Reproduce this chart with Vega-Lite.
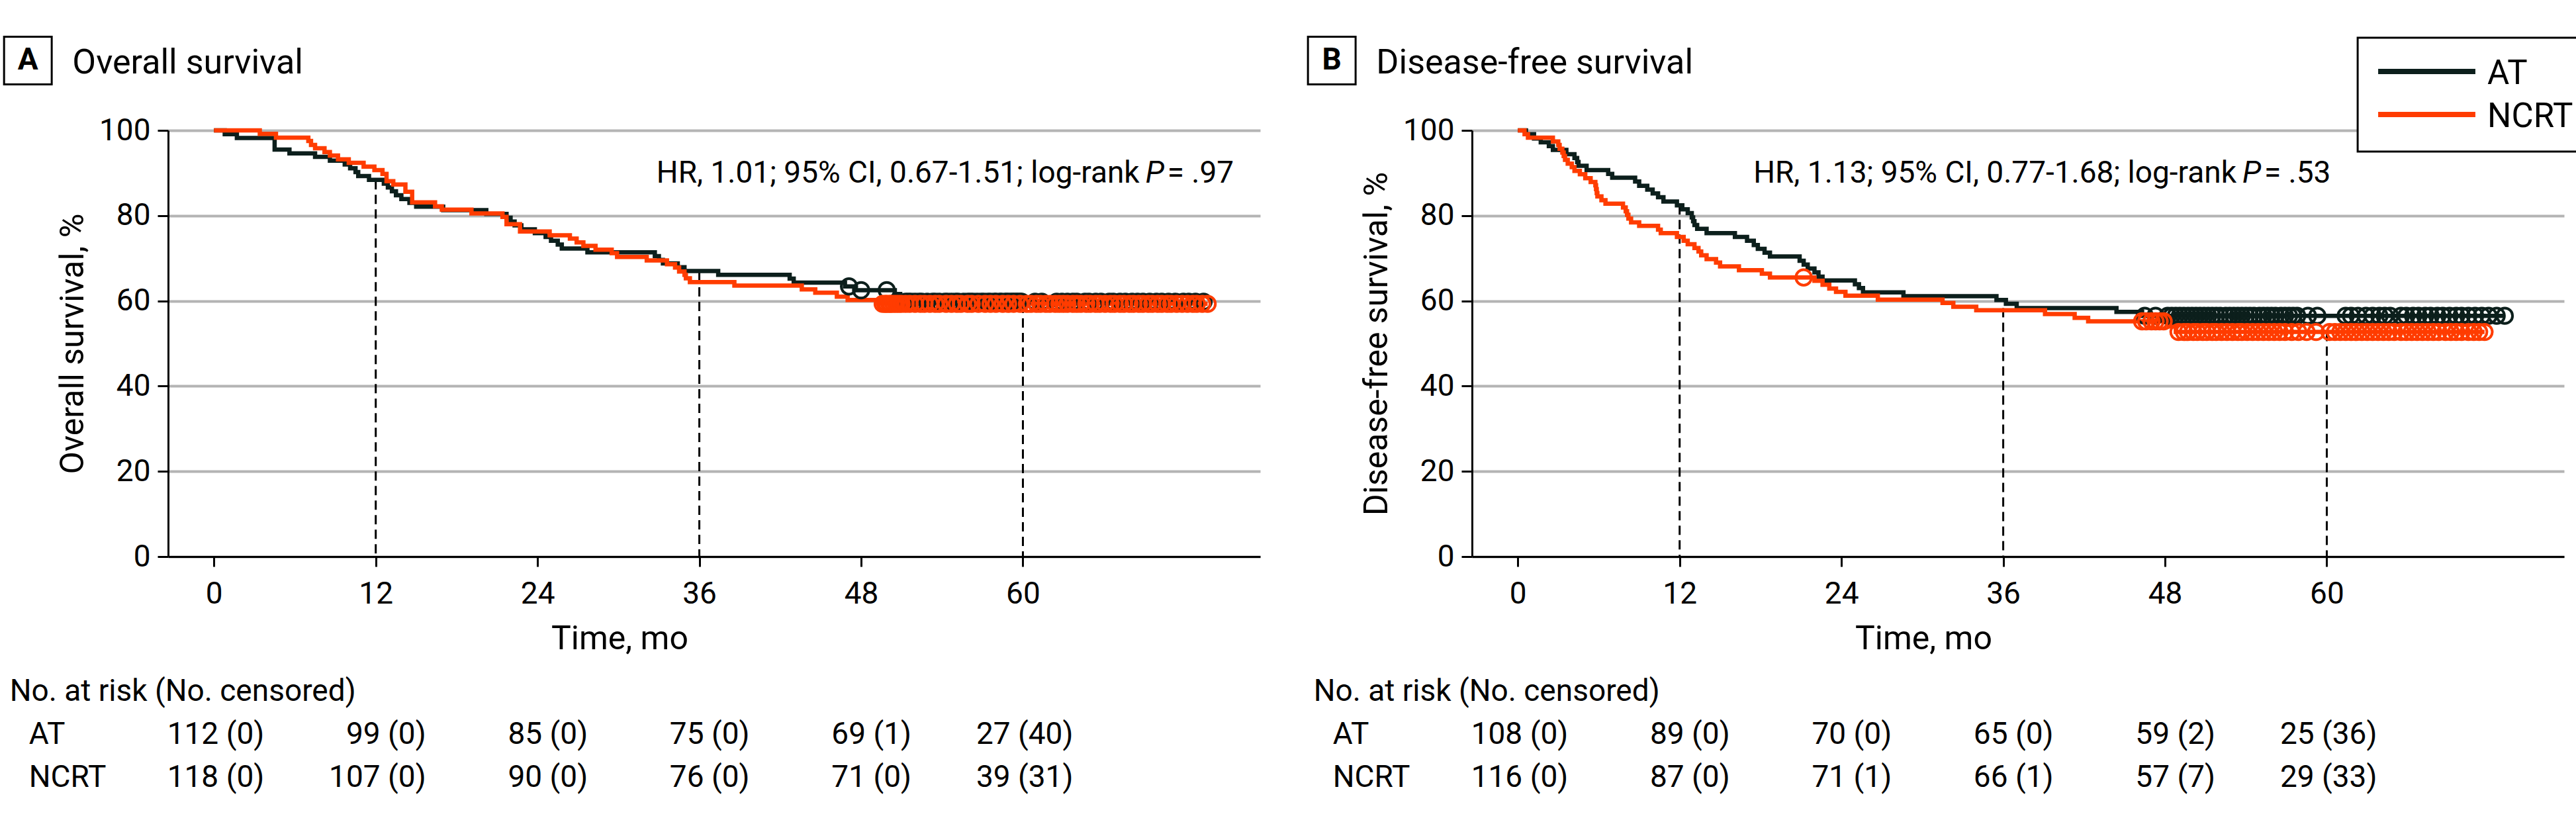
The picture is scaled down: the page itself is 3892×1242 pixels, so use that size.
{
"$schema": "https://vega.github.io/schema/vega-lite/v6.json",
"background": "white",
"autosize": {"type": "pad"},
"padding": {"left": 0, "top": 49, "right": 0, "bottom": 10},
"config": {
  "font": "Roboto",
  "view": {"stroke": null},
  "axis": {"labelFont": "Roboto", "titleFont": "Roboto", "labelFontSize": 46, "titleFontSize": 50, "titleFontWeight": "normal", "labelColor": "black", "titleColor": "black", "domainColor": "black", "tickColor": "black", "domainWidth": 3, "tickWidth": 3, "gridColor": "#b4b4b4", "gridWidth": 4, "labelFlush": false},
  "text": {"font": "Roboto", "color": "black"}
},
"datasets": {
  "km": [
    {"p":"A","g":"AT","t":0,"s":100},{"p":"A","g":"AT","t":0.8,"s":99.1},{"p":"A","g":"AT","t":1.7,"s":98.2},{"p":"A","g":"AT","t":4.5,"s":95.5},{"p":"A","g":"AT","t":5.6,"s":94.6},{"p":"A","g":"AT","t":7.5,"s":93.8},{"p":"A","g":"AT","t":8.6,"s":92.9},{"p":"A","g":"AT","t":9.7,"s":92.0},{"p":"A","g":"AT","t":10.1,"s":91.1},{"p":"A","g":"AT","t":10.5,"s":90.2},{"p":"A","g":"AT","t":10.7,"s":89.3},{"p":"A","g":"AT","t":11.5,"s":88.4},{"p":"A","g":"AT","t":12.6,"s":87.5},{"p":"A","g":"AT","t":12.9,"s":86.6},{"p":"A","g":"AT","t":13.2,"s":85.7},{"p":"A","g":"AT","t":13.5,"s":84.8},{"p":"A","g":"AT","t":13.9,"s":83.9},{"p":"A","g":"AT","t":14.5,"s":83.0},{"p":"A","g":"AT","t":15.0,"s":82.1},{"p":"A","g":"AT","t":17.0,"s":81.3},{"p":"A","g":"AT","t":20.2,"s":80.4},{"p":"A","g":"AT","t":21.7,"s":79.5},{"p":"A","g":"AT","t":22.0,"s":78.6},{"p":"A","g":"AT","t":22.3,"s":77.7},{"p":"A","g":"AT","t":22.8,"s":76.8},{"p":"A","g":"AT","t":23.8,"s":75.9},{"p":"A","g":"AT","t":24.6,"s":75.0},{"p":"A","g":"AT","t":25.0,"s":74.1},{"p":"A","g":"AT","t":25.5,"s":73.2},{"p":"A","g":"AT","t":25.8,"s":72.3},{"p":"A","g":"AT","t":27.7,"s":71.4},{"p":"A","g":"AT","t":32.7,"s":70.5},{"p":"A","g":"AT","t":33.0,"s":69.6},{"p":"A","g":"AT","t":33.3,"s":68.8},{"p":"A","g":"AT","t":34.4,"s":67.9},{"p":"A","g":"AT","t":34.9,"s":67.0},{"p":"A","g":"AT","t":37.4,"s":66.1},{"p":"A","g":"AT","t":42.7,"s":65.2},{"p":"A","g":"AT","t":43.0,"s":64.3},{"p":"A","g":"AT","t":46.8,"s":63.4},{"p":"A","g":"AT","t":47.6,"s":62.5},{"p":"A","g":"AT","t":50.5,"s":61.6},{"p":"A","g":"AT","t":50.9,"s":60.7},{"p":"A","g":"AT","t":51.2,"s":59.8},{"p":"A","g":"AT","t":73.4,"s":59.8},
    {"p":"A","g":"NCRT","t":0,"s":100},{"p":"A","g":"NCRT","t":3.4,"s":99.2},{"p":"A","g":"NCRT","t":4.6,"s":98.3},{"p":"A","g":"NCRT","t":7.0,"s":97.5},{"p":"A","g":"NCRT","t":7.2,"s":96.6},{"p":"A","g":"NCRT","t":7.5,"s":95.8},{"p":"A","g":"NCRT","t":8.2,"s":94.9},{"p":"A","g":"NCRT","t":8.6,"s":94.1},{"p":"A","g":"NCRT","t":9.2,"s":93.2},{"p":"A","g":"NCRT","t":10.0,"s":92.4},{"p":"A","g":"NCRT","t":11.1,"s":91.5},{"p":"A","g":"NCRT","t":11.9,"s":90.7},{"p":"A","g":"NCRT","t":12.5,"s":89.8},{"p":"A","g":"NCRT","t":12.8,"s":88.1},{"p":"A","g":"NCRT","t":13.3,"s":87.3},{"p":"A","g":"NCRT","t":14.2,"s":85.6},{"p":"A","g":"NCRT","t":14.7,"s":83.1},{"p":"A","g":"NCRT","t":16.4,"s":82.2},{"p":"A","g":"NCRT","t":16.9,"s":81.4},{"p":"A","g":"NCRT","t":19.1,"s":80.5},{"p":"A","g":"NCRT","t":21.4,"s":79.7},{"p":"A","g":"NCRT","t":21.7,"s":78.0},{"p":"A","g":"NCRT","t":22.7,"s":76.3},{"p":"A","g":"NCRT","t":24.9,"s":75.4},{"p":"A","g":"NCRT","t":26.4,"s":74.6},{"p":"A","g":"NCRT","t":26.9,"s":73.7},{"p":"A","g":"NCRT","t":27.4,"s":72.9},{"p":"A","g":"NCRT","t":28.3,"s":72.0},{"p":"A","g":"NCRT","t":29.5,"s":71.2},{"p":"A","g":"NCRT","t":29.9,"s":70.3},{"p":"A","g":"NCRT","t":32.1,"s":69.5},{"p":"A","g":"NCRT","t":33.6,"s":68.6},{"p":"A","g":"NCRT","t":34.2,"s":67.8},{"p":"A","g":"NCRT","t":34.5,"s":66.9},{"p":"A","g":"NCRT","t":34.9,"s":66.1},{"p":"A","g":"NCRT","t":35.0,"s":65.3},{"p":"A","g":"NCRT","t":35.3,"s":64.4},{"p":"A","g":"NCRT","t":38.6,"s":63.6},{"p":"A","g":"NCRT","t":43.6,"s":62.7},{"p":"A","g":"NCRT","t":44.6,"s":61.9},{"p":"A","g":"NCRT","t":46.2,"s":61.0},{"p":"A","g":"NCRT","t":47.0,"s":60.2},{"p":"A","g":"NCRT","t":49.3,"s":59.3},{"p":"A","g":"NCRT","t":73.7,"s":59.3},
    {"p":"B","g":"AT","t":0,"s":100},{"p":"B","g":"AT","t":0.6,"s":99.1},{"p":"B","g":"AT","t":1.2,"s":98.1},{"p":"B","g":"AT","t":1.7,"s":97.2},{"p":"B","g":"AT","t":2.3,"s":96.3},{"p":"B","g":"AT","t":2.6,"s":95.4},{"p":"B","g":"AT","t":3.6,"s":94.4},{"p":"B","g":"AT","t":4.2,"s":93.5},{"p":"B","g":"AT","t":4.4,"s":92.6},{"p":"B","g":"AT","t":4.5,"s":91.7},{"p":"B","g":"AT","t":5.1,"s":90.7},{"p":"B","g":"AT","t":6.7,"s":89.8},{"p":"B","g":"AT","t":7.0,"s":88.9},{"p":"B","g":"AT","t":8.7,"s":88.0},{"p":"B","g":"AT","t":9.0,"s":87.0},{"p":"B","g":"AT","t":9.6,"s":86.1},{"p":"B","g":"AT","t":10.0,"s":85.2},{"p":"B","g":"AT","t":10.4,"s":84.3},{"p":"B","g":"AT","t":10.8,"s":83.3},{"p":"B","g":"AT","t":11.8,"s":82.4},{"p":"B","g":"AT","t":12.2,"s":81.5},{"p":"B","g":"AT","t":12.6,"s":80.6},{"p":"B","g":"AT","t":12.9,"s":79.6},{"p":"B","g":"AT","t":13.0,"s":78.7},{"p":"B","g":"AT","t":13.1,"s":77.8},{"p":"B","g":"AT","t":13.3,"s":76.9},{"p":"B","g":"AT","t":14.0,"s":75.9},{"p":"B","g":"AT","t":16.1,"s":75.0},{"p":"B","g":"AT","t":17.0,"s":74.1},{"p":"B","g":"AT","t":17.5,"s":73.1},{"p":"B","g":"AT","t":17.8,"s":72.2},{"p":"B","g":"AT","t":18.3,"s":71.3},{"p":"B","g":"AT","t":18.7,"s":70.4},{"p":"B","g":"AT","t":20.9,"s":69.4},{"p":"B","g":"AT","t":21.2,"s":68.5},{"p":"B","g":"AT","t":21.5,"s":67.6},{"p":"B","g":"AT","t":22.0,"s":66.7},{"p":"B","g":"AT","t":22.3,"s":65.7},{"p":"B","g":"AT","t":22.6,"s":64.8},{"p":"B","g":"AT","t":25.0,"s":63.9},{"p":"B","g":"AT","t":25.3,"s":63.0},{"p":"B","g":"AT","t":25.6,"s":62.0},{"p":"B","g":"AT","t":28.6,"s":61.1},{"p":"B","g":"AT","t":35.5,"s":60.2},{"p":"B","g":"AT","t":36.2,"s":59.3},{"p":"B","g":"AT","t":37.0,"s":58.3},{"p":"B","g":"AT","t":44.4,"s":57.4},{"p":"B","g":"AT","t":46.3,"s":56.5},{"p":"B","g":"AT","t":73.2,"s":56.5},
    {"p":"B","g":"NCRT","t":0,"s":100},{"p":"B","g":"NCRT","t":0.5,"s":99.1},{"p":"B","g":"NCRT","t":0.75,"s":98.3},{"p":"B","g":"NCRT","t":2.6,"s":97.4},{"p":"B","g":"NCRT","t":3.0,"s":96.6},{"p":"B","g":"NCRT","t":3.1,"s":95.7},{"p":"B","g":"NCRT","t":3.3,"s":94.8},{"p":"B","g":"NCRT","t":3.4,"s":94.0},{"p":"B","g":"NCRT","t":3.5,"s":93.1},{"p":"B","g":"NCRT","t":3.7,"s":92.2},{"p":"B","g":"NCRT","t":4.0,"s":91.4},{"p":"B","g":"NCRT","t":4.2,"s":90.5},{"p":"B","g":"NCRT","t":4.6,"s":89.7},{"p":"B","g":"NCRT","t":5.0,"s":88.8},{"p":"B","g":"NCRT","t":5.4,"s":87.9},{"p":"B","g":"NCRT","t":5.75,"s":87.1},{"p":"B","g":"NCRT","t":5.8,"s":86.2},{"p":"B","g":"NCRT","t":5.85,"s":85.3},{"p":"B","g":"NCRT","t":5.9,"s":84.5},{"p":"B","g":"NCRT","t":6.2,"s":83.6},{"p":"B","g":"NCRT","t":6.5,"s":82.8},{"p":"B","g":"NCRT","t":7.8,"s":81.9},{"p":"B","g":"NCRT","t":8.0,"s":81.0},{"p":"B","g":"NCRT","t":8.1,"s":80.2},{"p":"B","g":"NCRT","t":8.2,"s":79.3},{"p":"B","g":"NCRT","t":8.4,"s":78.4},{"p":"B","g":"NCRT","t":9.0,"s":77.6},{"p":"B","g":"NCRT","t":10.4,"s":76.7},{"p":"B","g":"NCRT","t":10.6,"s":75.9},{"p":"B","g":"NCRT","t":11.8,"s":75.0},{"p":"B","g":"NCRT","t":12.3,"s":74.1},{"p":"B","g":"NCRT","t":12.6,"s":73.3},{"p":"B","g":"NCRT","t":13.1,"s":72.4},{"p":"B","g":"NCRT","t":13.4,"s":71.6},{"p":"B","g":"NCRT","t":13.6,"s":70.7},{"p":"B","g":"NCRT","t":14.0,"s":69.8},{"p":"B","g":"NCRT","t":14.7,"s":69.0},{"p":"B","g":"NCRT","t":15.0,"s":68.1},{"p":"B","g":"NCRT","t":16.4,"s":67.2},{"p":"B","g":"NCRT","t":18.1,"s":66.4},{"p":"B","g":"NCRT","t":18.7,"s":65.5},{"p":"B","g":"NCRT","t":22.0,"s":64.7},{"p":"B","g":"NCRT","t":22.6,"s":63.8},{"p":"B","g":"NCRT","t":23.1,"s":62.9},{"p":"B","g":"NCRT","t":23.6,"s":62.1},{"p":"B","g":"NCRT","t":24.3,"s":61.2},{"p":"B","g":"NCRT","t":26.7,"s":60.3},{"p":"B","g":"NCRT","t":31.5,"s":59.5},{"p":"B","g":"NCRT","t":32.3,"s":58.6},{"p":"B","g":"NCRT","t":34.0,"s":57.8},{"p":"B","g":"NCRT","t":39.1,"s":56.9},{"p":"B","g":"NCRT","t":41.3,"s":56.0},{"p":"B","g":"NCRT","t":42.3,"s":55.2},{"p":"B","g":"NCRT","t":48.3,"s":54.0},{"p":"B","g":"NCRT","t":48.8,"s":52.7},{"p":"B","g":"NCRT","t":71.7,"s":52.7}
  ],
  "cens": [
    {"p":"A","g":"AT","t":47.1,"s":63.4},{"p":"A","g":"AT","t":48.0,"s":62.5},{"p":"A","g":"AT","t":49.9,"s":62.5},
    {"p":"A","g":"AT","t":51.3,"s":59.8},{"p":"A","g":"AT","t":51.5,"s":59.8},{"p":"A","g":"AT","t":51.7,"s":59.8},{"p":"A","g":"AT","t":52.0,"s":59.8},{"p":"A","g":"AT","t":52.3,"s":59.8},{"p":"A","g":"AT","t":52.5,"s":59.8},{"p":"A","g":"AT","t":52.9,"s":59.8},{"p":"A","g":"AT","t":53.3,"s":59.8},{"p":"A","g":"AT","t":53.5,"s":59.8},{"p":"A","g":"AT","t":53.8,"s":59.8},{"p":"A","g":"AT","t":54.2,"s":59.8},{"p":"A","g":"AT","t":54.4,"s":59.8},{"p":"A","g":"AT","t":54.7,"s":59.8},{"p":"A","g":"AT","t":55.0,"s":59.8},{"p":"A","g":"AT","t":55.2,"s":59.8},{"p":"A","g":"AT","t":55.6,"s":59.8},{"p":"A","g":"AT","t":55.9,"s":59.8},{"p":"A","g":"AT","t":56.1,"s":59.8},{"p":"A","g":"AT","t":56.3,"s":59.8},{"p":"A","g":"AT","t":56.6,"s":59.8},{"p":"A","g":"AT","t":56.9,"s":59.8},{"p":"A","g":"AT","t":57.1,"s":59.8},{"p":"A","g":"AT","t":57.4,"s":59.8},{"p":"A","g":"AT","t":57.6,"s":59.8},{"p":"A","g":"AT","t":57.9,"s":59.8},{"p":"A","g":"AT","t":58.0,"s":59.8},{"p":"A","g":"AT","t":58.3,"s":59.8},{"p":"A","g":"AT","t":58.4,"s":59.8},{"p":"A","g":"AT","t":58.7,"s":59.8},{"p":"A","g":"AT","t":58.8,"s":59.8},{"p":"A","g":"AT","t":59.0,"s":59.8},{"p":"A","g":"AT","t":59.2,"s":59.8},{"p":"A","g":"AT","t":59.3,"s":59.8},{"p":"A","g":"AT","t":59.5,"s":59.8},{"p":"A","g":"AT","t":59.6,"s":59.8},{"p":"A","g":"AT","t":59.8,"s":59.8},{"p":"A","g":"AT","t":59.9,"s":59.8},{"p":"A","g":"AT","t":60.9,"s":59.8},{"p":"A","g":"AT","t":61.4,"s":59.8},{"p":"A","g":"AT","t":62.5,"s":59.8},{"p":"A","g":"AT","t":62.9,"s":59.8},{"p":"A","g":"AT","t":63.3,"s":59.8},{"p":"A","g":"AT","t":63.7,"s":59.8},{"p":"A","g":"AT","t":64.0,"s":59.8},{"p":"A","g":"AT","t":64.6,"s":59.8},{"p":"A","g":"AT","t":64.9,"s":59.8},{"p":"A","g":"AT","t":65.4,"s":59.8},{"p":"A","g":"AT","t":65.8,"s":59.8},{"p":"A","g":"AT","t":66.4,"s":59.8},{"p":"A","g":"AT","t":66.7,"s":59.8},{"p":"A","g":"AT","t":67.2,"s":59.8},{"p":"A","g":"AT","t":67.6,"s":59.8},{"p":"A","g":"AT","t":68.1,"s":59.8},{"p":"A","g":"AT","t":68.5,"s":59.8},{"p":"A","g":"AT","t":68.9,"s":59.8},{"p":"A","g":"AT","t":69.4,"s":59.8},{"p":"A","g":"AT","t":69.9,"s":59.8},{"p":"A","g":"AT","t":70.3,"s":59.8},{"p":"A","g":"AT","t":70.8,"s":59.8},{"p":"A","g":"AT","t":71.3,"s":59.8},{"p":"A","g":"AT","t":71.9,"s":59.8},{"p":"A","g":"AT","t":72.3,"s":59.8},{"p":"A","g":"AT","t":72.8,"s":59.8},{"p":"A","g":"AT","t":73.4,"s":59.8},
    {"p":"A","g":"NCRT","t":49.6,"s":59.3},{"p":"A","g":"NCRT","t":49.8,"s":59.3},{"p":"A","g":"NCRT","t":49.9,"s":59.3},{"p":"A","g":"NCRT","t":50.1,"s":59.3},{"p":"A","g":"NCRT","t":50.2,"s":59.3},{"p":"A","g":"NCRT","t":50.4,"s":59.3},{"p":"A","g":"NCRT","t":50.6,"s":59.3},{"p":"A","g":"NCRT","t":50.8,"s":59.3},{"p":"A","g":"NCRT","t":51.0,"s":59.3},{"p":"A","g":"NCRT","t":51.3,"s":59.3},{"p":"A","g":"NCRT","t":51.6,"s":59.3},{"p":"A","g":"NCRT","t":52.0,"s":59.3},{"p":"A","g":"NCRT","t":52.4,"s":59.3},{"p":"A","g":"NCRT","t":52.7,"s":59.3},{"p":"A","g":"NCRT","t":53.1,"s":59.3},{"p":"A","g":"NCRT","t":53.5,"s":59.3},{"p":"A","g":"NCRT","t":53.8,"s":59.3},{"p":"A","g":"NCRT","t":54.3,"s":59.3},{"p":"A","g":"NCRT","t":54.7,"s":59.3},{"p":"A","g":"NCRT","t":55.1,"s":59.3},{"p":"A","g":"NCRT","t":55.4,"s":59.3},{"p":"A","g":"NCRT","t":55.9,"s":59.3},{"p":"A","g":"NCRT","t":56.2,"s":59.3},{"p":"A","g":"NCRT","t":56.7,"s":59.3},{"p":"A","g":"NCRT","t":57.2,"s":59.3},{"p":"A","g":"NCRT","t":57.6,"s":59.3},{"p":"A","g":"NCRT","t":58.0,"s":59.3},{"p":"A","g":"NCRT","t":58.5,"s":59.3},{"p":"A","g":"NCRT","t":58.9,"s":59.3},{"p":"A","g":"NCRT","t":59.3,"s":59.3},{"p":"A","g":"NCRT","t":59.8,"s":59.3},{"p":"A","g":"NCRT","t":60.3,"s":59.3},{"p":"A","g":"NCRT","t":60.6,"s":59.3},{"p":"A","g":"NCRT","t":61.0,"s":59.3},{"p":"A","g":"NCRT","t":61.3,"s":59.3},{"p":"A","g":"NCRT","t":61.7,"s":59.3},{"p":"A","g":"NCRT","t":62.0,"s":59.3},{"p":"A","g":"NCRT","t":62.4,"s":59.3},{"p":"A","g":"NCRT","t":62.7,"s":59.3},{"p":"A","g":"NCRT","t":63.0,"s":59.3},{"p":"A","g":"NCRT","t":63.3,"s":59.3},{"p":"A","g":"NCRT","t":63.7,"s":59.3},{"p":"A","g":"NCRT","t":64.0,"s":59.3},{"p":"A","g":"NCRT","t":64.3,"s":59.3},{"p":"A","g":"NCRT","t":64.7,"s":59.3},{"p":"A","g":"NCRT","t":65.0,"s":59.3},{"p":"A","g":"NCRT","t":65.4,"s":59.3},{"p":"A","g":"NCRT","t":65.7,"s":59.3},{"p":"A","g":"NCRT","t":66.1,"s":59.3},{"p":"A","g":"NCRT","t":66.5,"s":59.3},{"p":"A","g":"NCRT","t":66.8,"s":59.3},{"p":"A","g":"NCRT","t":67.2,"s":59.3},{"p":"A","g":"NCRT","t":67.5,"s":59.3},{"p":"A","g":"NCRT","t":67.9,"s":59.3},{"p":"A","g":"NCRT","t":68.2,"s":59.3},{"p":"A","g":"NCRT","t":68.6,"s":59.3},{"p":"A","g":"NCRT","t":68.9,"s":59.3},{"p":"A","g":"NCRT","t":69.3,"s":59.3},{"p":"A","g":"NCRT","t":69.6,"s":59.3},{"p":"A","g":"NCRT","t":70.0,"s":59.3},{"p":"A","g":"NCRT","t":70.3,"s":59.3},{"p":"A","g":"NCRT","t":70.7,"s":59.3},{"p":"A","g":"NCRT","t":71.0,"s":59.3},{"p":"A","g":"NCRT","t":71.4,"s":59.3},{"p":"A","g":"NCRT","t":71.8,"s":59.3},{"p":"A","g":"NCRT","t":72.2,"s":59.3},{"p":"A","g":"NCRT","t":72.6,"s":59.3},{"p":"A","g":"NCRT","t":72.9,"s":59.3},{"p":"A","g":"NCRT","t":73.3,"s":59.3},{"p":"A","g":"NCRT","t":73.7,"s":59.3},
    {"p":"B","g":"AT","t":46.5,"s":56.5},{"p":"B","g":"AT","t":47.3,"s":56.5},{"p":"B","g":"AT","t":48.2,"s":56.5},{"p":"B","g":"AT","t":48.5,"s":56.5},{"p":"B","g":"AT","t":48.8,"s":56.5},{"p":"B","g":"AT","t":49.1,"s":56.5},{"p":"B","g":"AT","t":49.4,"s":56.5},{"p":"B","g":"AT","t":49.7,"s":56.5},{"p":"B","g":"AT","t":50.0,"s":56.5},{"p":"B","g":"AT","t":50.3,"s":56.5},{"p":"B","g":"AT","t":50.6,"s":56.5},{"p":"B","g":"AT","t":50.9,"s":56.5},{"p":"B","g":"AT","t":51.2,"s":56.5},{"p":"B","g":"AT","t":51.5,"s":56.5},{"p":"B","g":"AT","t":51.8,"s":56.5},{"p":"B","g":"AT","t":52.1,"s":56.5},{"p":"B","g":"AT","t":52.5,"s":56.5},{"p":"B","g":"AT","t":52.8,"s":56.5},{"p":"B","g":"AT","t":53.1,"s":56.5},{"p":"B","g":"AT","t":53.4,"s":56.5},{"p":"B","g":"AT","t":53.7,"s":56.5},{"p":"B","g":"AT","t":54.0,"s":56.5},{"p":"B","g":"AT","t":54.3,"s":56.5},{"p":"B","g":"AT","t":54.6,"s":56.5},{"p":"B","g":"AT","t":55.0,"s":56.5},{"p":"B","g":"AT","t":55.3,"s":56.5},{"p":"B","g":"AT","t":55.6,"s":56.5},{"p":"B","g":"AT","t":55.9,"s":56.5},{"p":"B","g":"AT","t":56.2,"s":56.5},{"p":"B","g":"AT","t":56.6,"s":56.5},{"p":"B","g":"AT","t":56.9,"s":56.5},{"p":"B","g":"AT","t":57.2,"s":56.5},{"p":"B","g":"AT","t":57.5,"s":56.5},{"p":"B","g":"AT","t":57.8,"s":56.5},{"p":"B","g":"AT","t":58.6,"s":56.5},{"p":"B","g":"AT","t":59.3,"s":56.5},{"p":"B","g":"AT","t":61.4,"s":56.5},{"p":"B","g":"AT","t":61.8,"s":56.5},{"p":"B","g":"AT","t":62.3,"s":56.5},{"p":"B","g":"AT","t":62.9,"s":56.5},{"p":"B","g":"AT","t":63.4,"s":56.5},{"p":"B","g":"AT","t":63.9,"s":56.5},{"p":"B","g":"AT","t":64.3,"s":56.5},{"p":"B","g":"AT","t":64.7,"s":56.5},{"p":"B","g":"AT","t":65.5,"s":56.5},{"p":"B","g":"AT","t":65.9,"s":56.5},{"p":"B","g":"AT","t":66.4,"s":56.5},{"p":"B","g":"AT","t":66.8,"s":56.5},{"p":"B","g":"AT","t":67.3,"s":56.5},{"p":"B","g":"AT","t":67.7,"s":56.5},{"p":"B","g":"AT","t":68.2,"s":56.5},{"p":"B","g":"AT","t":68.6,"s":56.5},{"p":"B","g":"AT","t":69.1,"s":56.5},{"p":"B","g":"AT","t":69.6,"s":56.5},{"p":"B","g":"AT","t":70.0,"s":56.5},{"p":"B","g":"AT","t":70.5,"s":56.5},{"p":"B","g":"AT","t":71.0,"s":56.5},{"p":"B","g":"AT","t":71.5,"s":56.5},{"p":"B","g":"AT","t":72.0,"s":56.5},{"p":"B","g":"AT","t":72.6,"s":56.5},{"p":"B","g":"AT","t":73.2,"s":56.5},
    {"p":"B","g":"NCRT","t":21.2,"s":65.5},
    {"p":"B","g":"NCRT","t":46.3,"s":55.2},{"p":"B","g":"NCRT","t":46.6,"s":55.2},{"p":"B","g":"NCRT","t":47.0,"s":55.2},{"p":"B","g":"NCRT","t":47.3,"s":55.2},{"p":"B","g":"NCRT","t":47.6,"s":55.2},{"p":"B","g":"NCRT","t":47.9,"s":55.2},
    {"p":"B","g":"NCRT","t":49.0,"s":52.7},{"p":"B","g":"NCRT","t":49.4,"s":52.7},{"p":"B","g":"NCRT","t":49.7,"s":52.7},{"p":"B","g":"NCRT","t":50.1,"s":52.7},{"p":"B","g":"NCRT","t":50.4,"s":52.7},{"p":"B","g":"NCRT","t":50.8,"s":52.7},{"p":"B","g":"NCRT","t":51.1,"s":52.7},{"p":"B","g":"NCRT","t":51.5,"s":52.7},{"p":"B","g":"NCRT","t":51.8,"s":52.7},{"p":"B","g":"NCRT","t":52.2,"s":52.7},{"p":"B","g":"NCRT","t":52.6,"s":52.7},{"p":"B","g":"NCRT","t":53.0,"s":52.7},{"p":"B","g":"NCRT","t":53.4,"s":52.7},{"p":"B","g":"NCRT","t":53.7,"s":52.7},{"p":"B","g":"NCRT","t":54.1,"s":52.7},{"p":"B","g":"NCRT","t":54.5,"s":52.7},{"p":"B","g":"NCRT","t":54.9,"s":52.7},{"p":"B","g":"NCRT","t":55.3,"s":52.7},{"p":"B","g":"NCRT","t":55.7,"s":52.7},{"p":"B","g":"NCRT","t":56.1,"s":52.7},{"p":"B","g":"NCRT","t":56.5,"s":52.7},{"p":"B","g":"NCRT","t":56.9,"s":52.7},{"p":"B","g":"NCRT","t":57.4,"s":52.7},{"p":"B","g":"NCRT","t":57.9,"s":52.7},{"p":"B","g":"NCRT","t":58.5,"s":52.7},{"p":"B","g":"NCRT","t":59.2,"s":52.7},{"p":"B","g":"NCRT","t":60.2,"s":52.7},{"p":"B","g":"NCRT","t":60.6,"s":52.7},{"p":"B","g":"NCRT","t":61.0,"s":52.7},{"p":"B","g":"NCRT","t":61.4,"s":52.7},{"p":"B","g":"NCRT","t":61.8,"s":52.7},{"p":"B","g":"NCRT","t":62.2,"s":52.7},{"p":"B","g":"NCRT","t":62.6,"s":52.7},{"p":"B","g":"NCRT","t":63.0,"s":52.7},{"p":"B","g":"NCRT","t":63.4,"s":52.7},{"p":"B","g":"NCRT","t":63.8,"s":52.7},{"p":"B","g":"NCRT","t":64.2,"s":52.7},{"p":"B","g":"NCRT","t":64.6,"s":52.7},{"p":"B","g":"NCRT","t":65.0,"s":52.7},{"p":"B","g":"NCRT","t":65.5,"s":52.7},{"p":"B","g":"NCRT","t":65.9,"s":52.7},{"p":"B","g":"NCRT","t":66.3,"s":52.7},{"p":"B","g":"NCRT","t":66.7,"s":52.7},{"p":"B","g":"NCRT","t":67.1,"s":52.7},{"p":"B","g":"NCRT","t":67.5,"s":52.7},{"p":"B","g":"NCRT","t":67.9,"s":52.7},{"p":"B","g":"NCRT","t":68.3,"s":52.7},{"p":"B","g":"NCRT","t":68.8,"s":52.7},{"p":"B","g":"NCRT","t":69.2,"s":52.7},{"p":"B","g":"NCRT","t":69.6,"s":52.7},{"p":"B","g":"NCRT","t":70.0,"s":52.7},{"p":"B","g":"NCRT","t":70.5,"s":52.7},{"p":"B","g":"NCRT","t":70.9,"s":52.7},{"p":"B","g":"NCRT","t":71.3,"s":52.7},{"p":"B","g":"NCRT","t":71.7,"s":52.7}
  ],
  "dash": [
    {"p":"A","t":12,"top":88.3},{"p":"A","t":36,"top":66.6},{"p":"A","t":60,"top":59.3},
    {"p":"B","t":12,"top":82.4},{"p":"B","t":36,"top":58.3},{"p":"B","t":60,"top":52.7}
  ],
  "risk": [
    {"p":"A","g":"AT","t":0,"n":"112 (0)"},{"p":"A","g":"AT","t":12,"n":"99 (0)"},{"p":"A","g":"AT","t":24,"n":"85 (0)"},{"p":"A","g":"AT","t":36,"n":"75 (0)"},{"p":"A","g":"AT","t":48,"n":"69 (1)"},{"p":"A","g":"AT","t":60,"n":"27 (40)"},
    {"p":"A","g":"NCRT","t":0,"n":"118 (0)"},{"p":"A","g":"NCRT","t":12,"n":"107 (0)"},{"p":"A","g":"NCRT","t":24,"n":"90 (0)"},{"p":"A","g":"NCRT","t":36,"n":"76 (0)"},{"p":"A","g":"NCRT","t":48,"n":"71 (0)"},{"p":"A","g":"NCRT","t":60,"n":"39 (31)"},
    {"p":"B","g":"AT","t":0,"n":"108 (0)"},{"p":"B","g":"AT","t":12,"n":"89 (0)"},{"p":"B","g":"AT","t":24,"n":"70 (0)"},{"p":"B","g":"AT","t":36,"n":"65 (0)"},{"p":"B","g":"AT","t":48,"n":"59 (2)"},{"p":"B","g":"AT","t":60,"n":"25 (36)"},
    {"p":"B","g":"NCRT","t":0,"n":"116 (0)"},{"p":"B","g":"NCRT","t":12,"n":"87 (0)"},{"p":"B","g":"NCRT","t":24,"n":"71 (1)"},{"p":"B","g":"NCRT","t":36,"n":"66 (1)"},{"p":"B","g":"NCRT","t":48,"n":"57 (7)"},{"p":"B","g":"NCRT","t":60,"n":"29 (33)"}
  ],
  "rows": [
    {"p":"A","g":"header","n":"No. at risk (No. censored)"},{"p":"A","g":"AT","n":"AT"},{"p":"A","g":"NCRT","n":"NCRT"},
    {"p":"B","g":"header","n":"No. at risk (No. censored)"},{"p":"B","g":"AT","n":"AT"},{"p":"B","g":"NCRT","n":"NCRT"}
  ]
},
"spacing": 66,
"resolve": {"scale": {"x": "independent", "y": "independent", "color": "independent", "stroke": "independent"}},
"hconcat": [
  {
    "spacing": 31,
    "resolve": {"scale": {"x": "independent", "y": "independent", "color": "independent", "stroke": "independent"}},
    "vconcat": [
      {
        "width": 1650, "height": 644,
        "layer": [
          {"data": {"name": "dash"}, "transform": [{"filter": "datum.p === 'A'"}],
           "mark": {"type": "rule", "strokeDash": [14, 8], "strokeWidth": 3, "color": "black"},
           "encoding": {
             "x": {"field": "t", "type": "quantitative", "scale": {"domain": [-3.4, 77.6], "nice": false, "zero": false},
                   "axis": {"values": [0, 12, 24, 36, 48, 60], "grid": false, "tickSize": 15, "labelPadding": 19, "title": "Time, mo", "titleX": 682, "titleY": 139, "titleBaseline": "alphabetic", "titleAlign": "center"}},
             "y": {"field": "top", "type": "quantitative", "scale": {"domain": [0, 100], "nice": false},
                   "axis": {"values": [0, 20, 40, 60, 80, 100], "grid": true, "tickSize": 16, "labelPadding": 11, "title": "Overall survival, %", "titlePadding": 14}},
             "y2": {"datum": 0}
           }},
          {"data": {"name": "km"}, "transform": [{"filter": "datum.p === 'A'"}],
           "mark": {"type": "line", "interpolate": "step-after", "strokeWidth": 6.5},
           "encoding": {
             "x": {"field": "t", "type": "quantitative"},
             "y": {"field": "s", "type": "quantitative"},
             "color": {"field": "g", "type": "nominal", "scale": {"domain": ["AT", "NCRT"], "range": ["#0c1f1c", "#ff3c00"]}, "legend": null}
           }},
          {"data": {"name": "cens"}, "transform": [{"filter": "datum.p === 'A'"}],
           "mark": {"type": "point", "shape": "circle", "filled": false, "size": 550, "strokeWidth": 4, "opacity": 1},
           "encoding": {
             "x": {"field": "t", "type": "quantitative"},
             "y": {"field": "s", "type": "quantitative"},
             "stroke": {"field": "g", "type": "nominal", "scale": {"domain": ["AT", "NCRT"], "range": ["#0c1f1c", "#ff3c00"]}, "legend": null}
           }},
          {"data": {"values": [{"n": 1}]}, "mark": {"type": "text", "text": "HR, 1.01; 95% CI, 0.67-1.51; log-rank", "align": "right", "baseline": "alphabetic", "fontSize": 46, "dx": -9},
           "encoding": {"x": {"datum": 69.09}, "y": {"datum": 87.73}}},
          {"data": {"values": [{"n": 1}]}, "mark": {"type": "text", "text": "P", "fontStyle": "italic", "align": "left", "baseline": "alphabetic", "fontSize": 46},
           "encoding": {"x": {"datum": 69.09}, "y": {"datum": 87.73}}},
          {"data": {"values": [{"n": 1}]}, "mark": {"type": "text", "text": "= .97", "align": "left", "baseline": "alphabetic", "fontSize": 46, "dx": 33},
           "encoding": {"x": {"datum": 69.09}, "y": {"datum": 87.73}}},
          {"data": {"values": [{"n": 1}]}, "mark": {"type": "point", "shape": "square", "filled": false, "size": 5184, "strokeWidth": 3, "color": "black", "opacity": 1},
           "encoding": {"x": {"datum": -13.8}, "y": {"datum": 116.4}}},
          {"data": {"values": [{"n": 1}]}, "mark": {"type": "text", "text": "A", "fontWeight": "bold", "align": "center", "baseline": "middle", "fontSize": 46},
           "encoding": {"x": {"datum": -13.8}, "y": {"datum": 116.4}}},
          {"data": {"values": [{"n": 1}]}, "mark": {"type": "text", "text": "Overall survival", "align": "left", "baseline": "alphabetic", "fontSize": 52},
           "encoding": {"x": {"datum": -10.5}, "y": {"datum": 113.35}}}
        ]
      },
      {
        "width": 1650, "height": 195,
        "layer": [
          {"data": {"name": "risk"}, "transform": [{"filter": "datum.p === 'A'"}],
           "mark": {"type": "text", "align": "right", "dx": 76, "baseline": "alphabetic", "fontSize": 46},
           "encoding": {
             "x": {"field": "t", "type": "quantitative", "scale": {"domain": [-3.4, 77.6], "nice": false, "zero": false}, "axis": null},
             "y": {"field": "g", "type": "nominal", "scale": {"type": "point", "domain": ["header", "AT", "NCRT"], "padding": 0.5}, "axis": null},
             "text": {"field": "n"}
           }},
          {"data": {"name": "rows"}, "transform": [{"filter": "datum.p === 'A' && datum.g !== 'header'"}],
           "mark": {"type": "text", "align": "left", "baseline": "alphabetic", "fontSize": 46},
           "encoding": {"x": {"datum": -13.72}, "y": {"field": "g", "type": "nominal"}, "text": {"field": "n"}}},
          {"data": {"name": "rows"}, "transform": [{"filter": "datum.p === 'A' && datum.g === 'header'"}],
           "mark": {"type": "text", "align": "left", "baseline": "alphabetic", "fontSize": 46},
           "encoding": {"x": {"datum": -15.15}, "y": {"field": "g", "type": "nominal"}, "text": {"field": "n"}}}
        ]
      }
    ]
  },
  {
    "spacing": 31,
    "resolve": {"scale": {"x": "independent", "y": "independent", "color": "independent", "stroke": "independent"}},
    "vconcat": [
      {
        "width": 1650, "height": 644,
        "layer": [
          {"data": {"name": "dash"}, "transform": [{"filter": "datum.p === 'B'"}],
           "mark": {"type": "rule", "strokeDash": [14, 8], "strokeWidth": 3, "color": "black"},
           "encoding": {
             "x": {"field": "t", "type": "quantitative", "scale": {"domain": [-3.4, 77.6], "nice": false, "zero": false},
                   "axis": {"values": [0, 12, 24, 36, 48, 60], "grid": false, "tickSize": 15, "labelPadding": 19, "title": "Time, mo", "titleX": 682, "titleY": 139, "titleBaseline": "alphabetic", "titleAlign": "center"}},
             "y": {"field": "top", "type": "quantitative", "scale": {"domain": [0, 100], "nice": false},
                   "axis": {"values": [0, 20, 40, 60, 80, 100], "grid": true, "tickSize": 16, "labelPadding": 11, "title": "Disease-free survival, %", "titlePadding": 14}},
             "y2": {"datum": 0}
           }},
          {"data": {"name": "km"}, "transform": [{"filter": "datum.p === 'B'"}],
           "mark": {"type": "line", "interpolate": "step-after", "strokeWidth": 6.5},
           "encoding": {
             "x": {"field": "t", "type": "quantitative"},
             "y": {"field": "s", "type": "quantitative"},
             "color": {"field": "g", "type": "nominal", "scale": {"domain": ["AT", "NCRT"], "range": ["#0c1f1c", "#ff3c00"]}, "legend": null}
           }},
          {"data": {"name": "cens"}, "transform": [{"filter": "datum.p === 'B'"}],
           "mark": {"type": "point", "shape": "circle", "filled": false, "size": 550, "strokeWidth": 4, "opacity": 1},
           "encoding": {
             "x": {"field": "t", "type": "quantitative"},
             "y": {"field": "s", "type": "quantitative"},
             "stroke": {"field": "g", "type": "nominal", "scale": {"domain": ["AT", "NCRT"], "range": ["#0c1f1c", "#ff3c00"]}, "legend": null}
           }},
          {"data": {"values": [{"n": 1}]}, "mark": {"type": "text", "text": "HR, 1.13; 95% CI, 0.77-1.68; log-rank", "align": "right", "baseline": "alphabetic", "fontSize": 46, "dx": -9},
           "encoding": {"x": {"datum": 53.74}, "y": {"datum": 87.73}}},
          {"data": {"values": [{"n": 1}]}, "mark": {"type": "text", "text": "P", "fontStyle": "italic", "align": "left", "baseline": "alphabetic", "fontSize": 46},
           "encoding": {"x": {"datum": 53.74}, "y": {"datum": 87.73}}},
          {"data": {"values": [{"n": 1}]}, "mark": {"type": "text", "text": "= .53", "align": "left", "baseline": "alphabetic", "fontSize": 46, "dx": 33},
           "encoding": {"x": {"datum": 53.74}, "y": {"datum": 87.73}}},
          {"data": {"values": [{"n": 1}]}, "mark": {"type": "point", "shape": "square", "filled": false, "size": 5184, "strokeWidth": 3, "color": "black", "opacity": 1},
           "encoding": {"x": {"datum": -13.8}, "y": {"datum": 116.4}}},
          {"data": {"values": [{"n": 1}]}, "mark": {"type": "text", "text": "B", "fontWeight": "bold", "align": "center", "baseline": "middle", "fontSize": 46},
           "encoding": {"x": {"datum": -13.8}, "y": {"datum": 116.4}}},
          {"data": {"values": [{"n": 1}]}, "mark": {"type": "text", "text": "Disease-free survival", "align": "left", "baseline": "alphabetic", "fontSize": 52},
           "encoding": {"x": {"datum": -10.5}, "y": {"datum": 113.35}}},
          {"data": {"values": [{"n": 1}]}, "mark": {"type": "rect", "fill": "white", "stroke": "black", "strokeWidth": 3},
           "encoding": {"x": {"datum": 62.29}, "x2": {"datum": 78.98}, "y": {"datum": 121.74}, "y2": {"datum": 95.03}}},
          {"data": {"values": [{"g": "AT"}]}, "mark": {"type": "rule", "strokeWidth": 8},
           "encoding": {"x": {"datum": 63.81}, "x2": {"datum": 71.02}, "y": {"datum": 113.82}, "color": {"field": "g", "type": "nominal", "legend": null}}},
          {"data": {"values": [{"g": "NCRT"}]}, "mark": {"type": "rule", "strokeWidth": 8},
           "encoding": {"x": {"datum": 63.81}, "x2": {"datum": 71.02}, "y": {"datum": 103.73}, "color": {"field": "g", "type": "nominal", "legend": null}}},
          {"data": {"values": [{"g": "AT"}]}, "mark": {"type": "text", "align": "left", "baseline": "alphabetic", "fontSize": 51},
           "encoding": {"x": {"datum": 71.91}, "y": {"datum": 110.87}, "text": {"field": "g"}}},
          {"data": {"values": [{"g": "NCRT"}]}, "mark": {"type": "text", "align": "left", "baseline": "alphabetic", "fontSize": 51},
           "encoding": {"x": {"datum": 71.91}, "y": {"datum": 100.78}, "text": {"field": "g"}}}
        ]
      },
      {
        "width": 1650, "height": 195,
        "layer": [
          {"data": {"name": "risk"}, "transform": [{"filter": "datum.p === 'B'"}],
           "mark": {"type": "text", "align": "right", "dx": 76, "baseline": "alphabetic", "fontSize": 46},
           "encoding": {
             "x": {"field": "t", "type": "quantitative", "scale": {"domain": [-3.4, 77.6], "nice": false, "zero": false}, "axis": null},
             "y": {"field": "g", "type": "nominal", "scale": {"type": "point", "domain": ["header", "AT", "NCRT"], "padding": 0.5}, "axis": null},
             "text": {"field": "n"}
           }},
          {"data": {"name": "rows"}, "transform": [{"filter": "datum.p === 'B' && datum.g !== 'header'"}],
           "mark": {"type": "text", "align": "left", "baseline": "alphabetic", "fontSize": 46},
           "encoding": {"x": {"datum": -13.72}, "y": {"field": "g", "type": "nominal"}, "text": {"field": "n"}}},
          {"data": {"name": "rows"}, "transform": [{"filter": "datum.p === 'B' && datum.g === 'header'"}],
           "mark": {"type": "text", "align": "left", "baseline": "alphabetic", "fontSize": 46},
           "encoding": {"x": {"datum": -15.15}, "y": {"field": "g", "type": "nominal"}, "text": {"field": "n"}}}
        ]
      }
    ]
  }
]
}
